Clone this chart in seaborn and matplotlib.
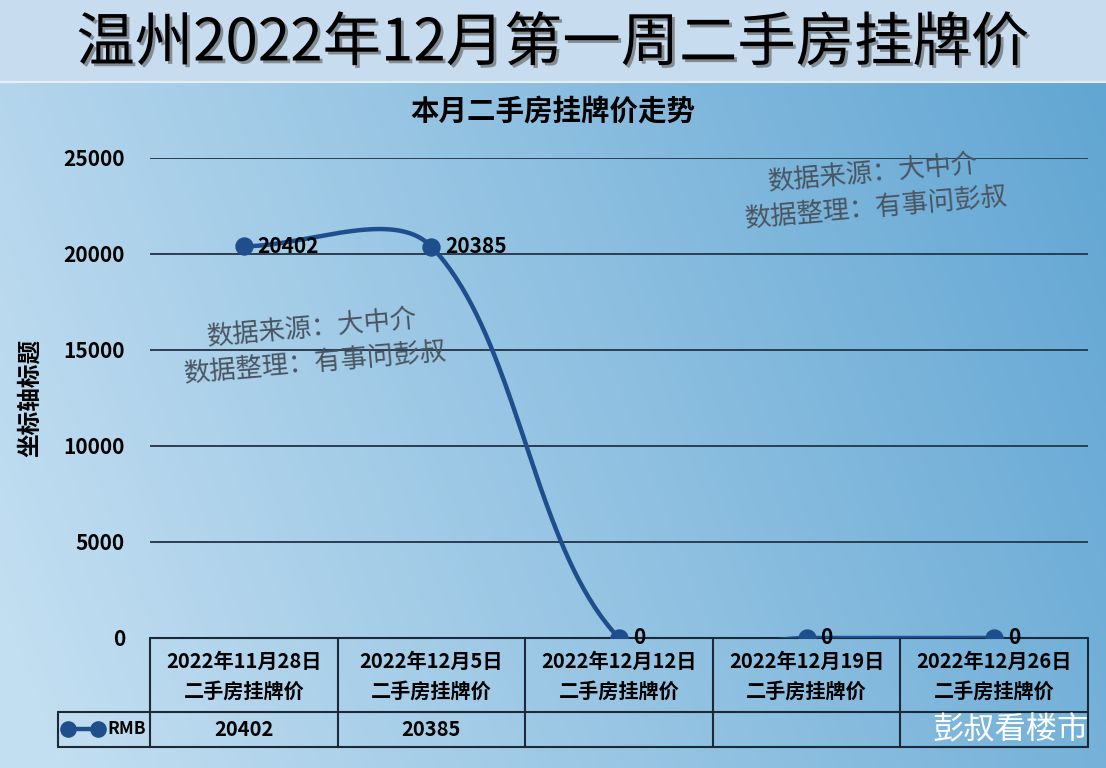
import numpy as np
import matplotlib
matplotlib.use('Agg')
import matplotlib.pyplot as plt
import matplotlib.patheffects as pe
from matplotlib.transforms import blended_transform_factory
import seaborn as sns

# 数据
dates = ['2022年11月28日', '2022年12月5日', '2022年12月12日', '2022年12月19日', '2022年12月26日']
row_name = '二手房挂牌价'
prices = [20402, 20385, 0, 0, 0]
series_name = 'RMB'
yticks = [0, 5000, 10000, 15000, 20000, 25000]

main_title = '温州2022年12月第一周二手房挂牌价'
chart_title = '本月二手房挂牌价走势'
y_label = '坐标轴标题'
note_lines = ['数据来源：大中介', '数据整理：有事问彭叔']
brand = '彭叔看楼市'

sns.set_theme(style='white')
plt.rcParams['font.family'] = ['Noto Sans CJK SC', 'DejaVu Sans']

W, H = 1106, 768
fig = plt.figure(figsize=(W / 100, H / 100), dpi=100)


def fy(py):
    return 1 - py / H


# 背景：标题区浅蓝 + 图表区渐变
bg = fig.add_axes([0, 0, 1, 1], zorder=0)
bg.set_xlim(0, 1)
bg.set_ylim(0, 1)
bg.axis('off')
band = fy(82)
bg.add_patch(plt.Rectangle((0, band), 1, 1 - band, color='#c8dcf0', lw=0))
gx, gy = np.meshgrid(np.linspace(0, 1, 400), np.linspace(0, 1, 300))
t = np.clip(0.85 * gx + 0.2 * (1 - gy) - 0.05, 0, 1)[..., None]
c0 = np.array([194, 222, 241]) / 255
c1 = np.array([98, 166, 211]) / 255
img = c0 + (c1 - c0) * t
bg.imshow(img, extent=[0, 1, 0, band], aspect='auto', origin='upper')
bg.plot([0, 1], [band, band], color='#e6eef7', lw=1.5)

fig.text(0.5, fy(44), main_title, ha='center', va='center', fontsize=42,
         color='black',
         path_effects=[pe.withSimplePatchShadow(offset=(2, -2), shadow_rgbFace='#555555', alpha=0.6)])
fig.text(0.5, fy(112), chart_title, ha='center', va='center', fontsize=20.5,
         fontweight='bold', color='black')

# 主图
ax = fig.add_axes([150 / W, fy(638), (1088 - 150) / W, (638 - 158) / H], zorder=2)
ax.patch.set_alpha(0)
ax.set_xlim(-0.5, len(dates) - 0.5)
ax.set_ylim(0, 25000)
ax.set_yticks(yticks)
ax.set_yticklabels([str(v) for v in yticks], fontsize=15, fontweight='bold', color='black')
ax.set_xticks([])
ax.tick_params(axis='y', length=0, pad=18)
ax.yaxis.grid(True, color='#2e3d4d', lw=1.4)
for s in ax.spines.values():
    s.set_visible(False)
ax.set_ylabel(y_label, fontsize=17, fontweight='bold', color='black')
ax.yaxis.set_label_coords(-(150 - 42) / (1088 - 150), 0.5)

# 平滑曲线（屏幕坐标下的贝塞尔平滑）
xs = np.arange(len(prices), dtype=float)
pts = ax.transData.transform(np.column_stack([xs, prices]))
n = len(pts)
d = np.linalg.norm(np.diff(pts, axis=0), axis=1)
curve = []
for i in range(n - 1):
    p1, p2 = pts[i], pts[i + 1]
    t1 = pts[min(i + 1, n - 1)] - pts[max(i - 1, 0)]
    t2 = pts[min(i + 2, n - 1)] - pts[i]
    dprev = d[i - 1] if i > 0 else 0.0
    dnext = d[i + 1] if i + 1 < n - 1 else 0.0
    ca = p1 + t1 * (d[i] / (dprev + d[i])) / 3
    cb = p2 - t2 * (d[i] / (d[i] + dnext)) / 3
    s = np.linspace(0, 1, 80)[:, None]
    curve.append((1 - s) ** 3 * p1 + 3 * (1 - s) ** 2 * s * ca + 3 * (1 - s) * s ** 2 * cb + s ** 3 * p2)
curve = ax.transData.inverted().transform(np.vstack(curve))

line_color = '#1f4e8c'
sns.lineplot(x=curve[:, 0], y=curve[:, 1], sort=False, estimator=None, color=line_color,
             lw=3.2, ax=ax, zorder=3)
sns.scatterplot(x=xs, y=prices, s=150, color=line_color, edgecolor=line_color, ax=ax, zorder=4)
for x, v in zip(xs, prices):
    ax.annotate(str(v), (x, v), xytext=(10, 0), textcoords='offset points', ha='left',
                va='center', fontsize=15, fontweight='bold', color='black',
                annotation_clip=False, zorder=5)

# 水印
for cx, cy in [(312, 345), (873, 190)]:
    fig.text(cx / W, fy(cy - 17), note_lines[0], ha='center', va='center', fontsize=19,
             color='#4a5561', rotation=5, zorder=6)
    fig.text((cx + 3) / W, fy(cy + 18), note_lines[1], ha='center', va='center', fontsize=19,
             color='#4a5561', rotation=5, zorder=6)

# 数据表
tr = blended_transform_factory(ax.transData, fig.transFigure)
tcol = '#1c2a38'
y_top, y_mid, y_bot = fy(638), fy(712), fy(747)
left_cell = -0.5 - 92 / 187.6
kw = dict(color=tcol, lw=1.5, transform=tr, clip_on=False)
ax.plot([-0.5, len(dates) - 0.5], [y_top, y_top], **kw)
ax.plot([left_cell, len(dates) - 0.5], [y_mid, y_mid], **kw)
ax.plot([left_cell, len(dates) - 0.5], [y_bot, y_bot], **kw)
ax.plot([left_cell, left_cell], [y_mid, y_bot], **kw)
for b in np.arange(-0.5, len(dates)):
    ax.plot([b, b], [y_top, y_bot], **kw)
for i, (dt, v) in enumerate(zip(dates, prices)):
    ax.text(i, fy(661), dt, transform=tr, ha='center', va='center', fontsize=14.5,
            fontweight='bold', color='black')
    ax.text(i, fy(691), row_name, transform=tr, ha='center', va='center', fontsize=14.5,
            fontweight='bold', color='black')
    ax.text(i, fy(729), str(v) if v else '', transform=tr, ha='center', va='center',
            fontsize=14.5, fontweight='bold', color='black')
lx = [-0.5 - 82 / 187.6, -0.5 - 52 / 187.6]
ax.plot(lx, [fy(729)] * 2, color=line_color, lw=3.2, transform=tr, clip_on=False)
ax.scatter(lx, [fy(729)] * 2, s=120, color=line_color, transform=tr, clip_on=False, zorder=5)
ax.text(-0.5 - 4 / 187.6, fy(729), series_name, transform=tr, ha='right', va='center',
        fontsize=12.5, fontweight='bold', color='black')

fig.text(1089 / W, fy(730), brand, ha='right', va='center', fontsize=22.5, color='white', zorder=6)

fig.savefig('out.png', dpi=100)
